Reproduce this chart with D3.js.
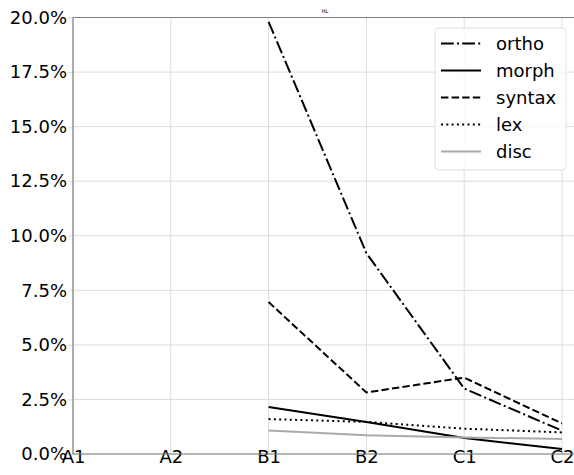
<!DOCTYPE html>
<html>
<head>
<meta charset="utf-8">
<script src="https://cdn.jsdelivr.net/npm/d3@7"></script>
<style>
  body { margin: 0; background: #fff; }
  text { font-family: "DejaVu Sans", sans-serif; }
</style>
</head>
<body>
<svg width="574" height="475"></svg>
<script>
const levels = ["A1", "A2", "B1", "B2", "C1", "C2"];
const yTicks = [0, 2.5, 5, 7.5, 10, 12.5, 15, 17.5, 20];

// error rates (%) per level, only B1..C2 are present
const ortho  = [null, null, 19.8, 9.2, 3.0, 1.07];
const morph  = [null, null, 2.15, 1.47, 0.73, 0.23];
const syntax = [null, null, 6.96, 2.82, 3.5, 1.4];
const lex    = [null, null, 1.6, 1.47, 1.16, 0.99];
const disc   = [null, null, 1.08, 0.86, 0.76, 0.69];

const series = [
  {name: "ortho",  values: ortho,  color: "#000", dash: "12.8,3.2,2,3.2"},
  {name: "morph",  values: morph,  color: "#000", dash: null},
  {name: "syntax", values: syntax, color: "#000", dash: "7.4,3.2"},
  {name: "lex",    values: lex,    color: "#000", dash: "2,3.3"},
  {name: "disc",   values: disc,   color: "#a9a9a9", dash: null}
];

const svg = d3.select("svg");
const plotLeft = 73, plotTop = 17.5, plotBottom = 454, plotRight = 577;

const x = d3.scalePoint().domain(levels).range([plotLeft, 562]);
const y = d3.scaleLinear().domain([0, 20]).range([plotBottom, plotTop]);

// grid
const g = svg.append("g");
g.selectAll(".hgrid").data(yTicks).enter().append("line")
  .attr("x1", plotLeft).attr("x2", plotRight)
  .attr("y1", d => y(d)).attr("y2", d => y(d))
  .attr("stroke", "#dcdcdc").attr("stroke-width", 1);
g.selectAll(".vgrid").data(levels).enter().append("line")
  .attr("x1", d => x(d)).attr("x2", d => x(d))
  .attr("y1", plotTop).attr("y2", plotBottom)
  .attr("stroke", "#dcdcdc").attr("stroke-width", 1);

// axes
const yAxis = svg.append("g")
  .attr("transform", `translate(${plotLeft},0)`)
  .call(d3.axisLeft(y).tickValues(yTicks).tickFormat(d => d.toFixed(1) + "%").tickSizeOuter(0).tickSize(5).tickPadding(1));
yAxis.select(".domain").remove();
yAxis.selectAll(".tick line").attr("stroke", "#dcdcdc");
yAxis.selectAll(".tick text").attr("font-size", 18).attr("fill", "#000")
  .attr("font-family", "DejaVu Sans, sans-serif");

const xAxis = svg.append("g")
  .attr("transform", `translate(0,${plotBottom})`)
  .call(d3.axisBottom(x).tickSize(0).tickPadding(0));
xAxis.select(".domain").remove();
xAxis.selectAll(".tick text").attr("font-size", 18).attr("fill", "#000")
  .attr("font-family", "DejaVu Sans, sans-serif")
  .attr("y", 9).attr("dy", 0);

// spines
svg.append("line").attr("x1", plotLeft).attr("x2", plotLeft).attr("y1", plotTop).attr("y2", plotBottom)
  .attr("stroke", "#808080").attr("stroke-width", 1.2);
svg.append("line").attr("x1", plotLeft).attr("x2", plotRight).attr("y1", plotTop).attr("y2", plotTop)
  .attr("stroke", "#808080").attr("stroke-width", 1.2);
svg.append("line").attr("x1", plotLeft).attr("x2", plotRight).attr("y1", plotBottom).attr("y2", plotBottom)
  .attr("stroke", "#808080").attr("stroke-width", 1.2);

// title
svg.append("text").attr("x", (plotLeft + plotRight) / 2).attr("y", 13)
  .attr("text-anchor", "middle").attr("font-size", 5).attr("fill", "#000").text("HL");

// lines
const line = d3.line()
  .defined(d => d.v != null)
  .x(d => x(d.level))
  .y(d => y(d.v));

series.forEach(s => {
  svg.append("path")
    .datum(levels.map((l, i) => ({level: l, v: s.values[i]})))
    .attr("fill", "none")
    .attr("stroke", s.color)
    .attr("stroke-width", 2)
    .attr("stroke-dasharray", s.dash)
    .attr("d", line);
});

// legend
const lg = svg.append("g").attr("transform", "translate(435,28)");
lg.append("rect").attr("width", 131).attr("height", 142).attr("rx", 4)
  .attr("fill", "#fff").attr("fill-opacity", 0.8)
  .attr("stroke", "#e0e0e0").attr("stroke-width", 1);
series.forEach((s, i) => {
  const yy = 15.5 + i * 27;
  lg.append("line").attr("x1", 6).attr("x2", 46).attr("y1", yy).attr("y2", yy)
    .attr("stroke", s.color).attr("stroke-width", 2).attr("stroke-dasharray", s.dash);
  lg.append("text").attr("x", 61).attr("y", yy).attr("dy", "0.35em")
    .attr("font-size", 18).text(s.name);
});
</script>
</body>
</html>
